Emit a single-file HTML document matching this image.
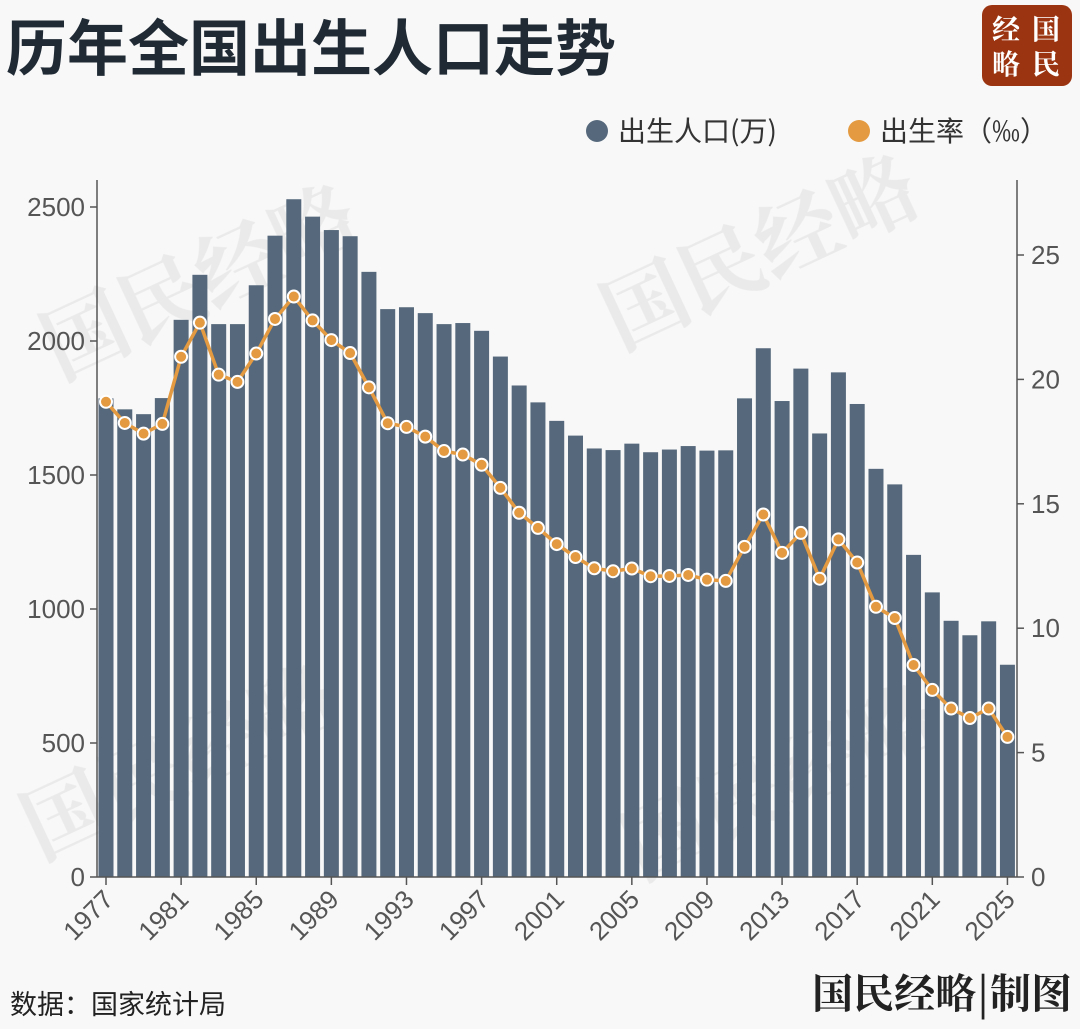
<!DOCTYPE html>
<html><head><meta charset="utf-8">
<style>
html,body{margin:0;padding:0;background:#f8f8f8;}
body{width:1080px;height:1029px;overflow:hidden;position:relative;font-family:"Liberation Sans","Noto Sans CJK SC",sans-serif;}
</style></head>
<body>
<svg id="s" width="1080" height="1029" xmlns="http://www.w3.org/2000/svg" style="position:absolute;left:0;top:0">
<rect width="1080" height="1029" fill="#f8f8f8"/>
<g fill="#e2e2e2" font-family="'Noto Serif CJK SC',serif" font-weight="bold" font-size="84" opacity="0.6">
<text transform="translate(60,380) rotate(-25)">国民经略</text>
<text transform="translate(620,350) rotate(-25)">国民经略</text>
<text transform="translate(40,860) rotate(-25)">国民经略</text>
<text transform="translate(640,880) rotate(-25)">国民经略</text>
</g>
<text x="6" y="70" font-size="61" font-weight="bold" fill="#1f2a35" font-family="'Noto Sans CJK SC',sans-serif">历年全国出生人口走势</text>
<rect x="982" y="5" width="90" height="81" rx="10" fill="#9b3410"/>
<g fill="#fff" font-size="28" font-family="'Noto Serif CJK SC',serif" font-weight="bold">
<text x="992" y="39">经</text><text x="1032" y="39">国</text>
<text x="992" y="74">略</text><text x="1032" y="74">民</text>
</g>
<circle cx="597" cy="131" r="11" fill="#56697c"/>
<text x="618" y="141" font-size="28" fill="#333" font-family="'Noto Sans CJK SC',sans-serif">出生人口(万)</text>
<circle cx="859" cy="131" r="11" fill="#e39a40"/>
<text x="880" y="141" font-size="28" fill="#333" font-family="'Noto Sans CJK SC',sans-serif">出生率（‰）</text>
<g id="chart"></g>
<text x="10" y="1014" font-size="27" fill="#222" font-family="'Noto Sans CJK SC',sans-serif">数据：国家统计局</text>
<text x="1072" y="1008" text-anchor="end" font-size="41" font-weight="bold" fill="#222" font-family="'Noto Serif CJK SC',serif">国民经略|制图</text>
</svg>
<script>
var births=[1786,1745,1727,1787,2079,2247,2063,2063,2208,2393,2529,2464,2414,2391,2258,2119,2126,2104,2063,2067,2038,1942,1834,1771,1702,1647,1599,1593,1617,1585,1595,1608,1591,1592,1786,1973,1776,1897,1655,1883,1765,1523,1465,1202,1062,956,902,954,792];
var rates=[19.1,18.25,17.82,18.21,20.91,22.28,20.19,19.90,21.04,22.43,23.33,22.37,21.58,21.06,19.68,18.24,18.09,17.70,17.12,16.98,16.57,15.64,14.64,14.03,13.38,12.86,12.41,12.29,12.40,12.09,12.10,12.14,11.95,11.90,13.27,14.57,13.03,13.83,11.99,13.57,12.64,10.86,10.41,8.52,7.52,6.77,6.39,6.77,5.63];
var y0=877,lk=670/2500,rk=622/25,x0=106,dx=18.78,h='';
var ax=97,rx=1017;
for(var i=0;i<births.length;i++){var cx=x0+i*dx,hh=births[i]*lk;h+='<rect x="'+(cx-7.5)+'" y="'+(y0-hh)+'" width="15" height="'+hh+'" fill="#56697c"/>';}
h+='<line x1="'+ax+'" y1="180" x2="'+ax+'" y2="'+y0+'" stroke="#555" stroke-width="1.5"/>';
h+='<line x1="'+rx+'" y1="180" x2="'+rx+'" y2="'+y0+'" stroke="#555" stroke-width="1.5"/>';
h+='<line x1="'+ax+'" y1="'+y0+'" x2="'+rx+'" y2="'+y0+'" stroke="#555" stroke-width="1.5"/>';
for(var v=0;v<=2500;v+=500){var y=y0-v*lk;h+='<line x1="'+(ax-7)+'" y1="'+y+'" x2="'+ax+'" y2="'+y+'" stroke="#555" stroke-width="1.5"/><text x="'+(ax-12)+'" y="'+(y+9)+'" text-anchor="end" font-size="26" fill="#555">'+v+'</text>';}
for(var v=0;v<=25;v+=5){var y=y0-v*rk;h+='<line x1="'+rx+'" y1="'+y+'" x2="'+(rx+7)+'" y2="'+y+'" stroke="#555" stroke-width="1.5"/><text x="'+(rx+14)+'" y="'+(y+9)+'" font-size="26" fill="#555">'+v+'</text>';}
for(var i=0;i<births.length;i+=4){var cx=x0+i*dx;h+='<line x1="'+cx+'" y1="'+y0+'" x2="'+cx+'" y2="'+(y0+8)+'" stroke="#555" stroke-width="1.5"/><text transform="translate('+(cx+9)+','+(y0+24)+') rotate(-45)" text-anchor="end" font-size="26" fill="#555">'+(1977+i)+'</text>';}
var p='';for(var i=0;i<rates.length;i++){p+=(i?'L':'M')+(x0+i*dx)+','+(y0-rates[i]*rk);}
h+='<path d="'+p+'" fill="none" stroke="#e39a40" stroke-width="3.5"/>';
for(var i=0;i<rates.length;i++){h+='<circle cx="'+(x0+i*dx)+'" cy="'+(y0-rates[i]*rk)+'" r="6" fill="#e39a40" stroke="#fff" stroke-width="2"/>';}
document.getElementById('chart').innerHTML=h;
</script>
</body></html>
